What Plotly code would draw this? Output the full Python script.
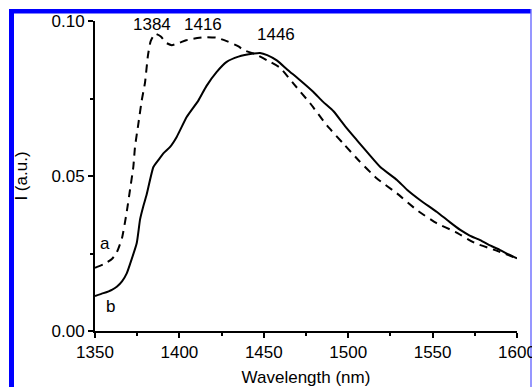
import plotly.graph_objects as go

# ---- data ----
wl_a = [1350, 1355, 1360, 1363, 1366, 1368.8, 1370.7, 1372.7, 1373.7, 1375.7, 1377.7,
        1379.6, 1381.4, 1383, 1385.6, 1389, 1392, 1395.5, 1400, 1404, 1408.3, 1415,
        1422, 1428, 1435, 1438, 1445, 1452, 1459.7, 1467.6, 1477.5, 1487.4, 1497.2,
        1506.1, 1517, 1528.9, 1540.7, 1552.6, 1563.4, 1575.3, 1587.1, 1600]
int_a = [0.0204, 0.0215, 0.0232, 0.0255, 0.0300, 0.0384, 0.0454, 0.0529, 0.0594, 0.0669, 0.0744,
         0.0800, 0.0890, 0.0935, 0.0959, 0.0950, 0.0930, 0.0922, 0.0930, 0.0938, 0.0943, 0.0948,
         0.0946, 0.0935, 0.0918, 0.0906, 0.0893, 0.0873, 0.0849, 0.0798, 0.0734, 0.0663, 0.0604,
         0.0551, 0.0492, 0.0444, 0.0390, 0.0347, 0.0320, 0.0283, 0.0261, 0.0234]

wl_b = [1350, 1355, 1360, 1362.9, 1366, 1368.8, 1371, 1374.7, 1376.7, 1378.5, 1380.6,
        1384.6, 1387.5, 1390.5, 1394.5, 1398.4, 1404.4, 1411.3, 1416, 1422, 1428, 1435,
        1443.9, 1447.8, 1452, 1457.7, 1464, 1471.5, 1479.4, 1485, 1491.3, 1498, 1505.1,
        1512, 1519, 1528.9, 1535, 1542.7, 1552.6, 1560, 1566.4, 1572, 1578.2, 1584, 1590,
        1595, 1600]
int_b = [0.0113, 0.0122, 0.0133, 0.0143, 0.0160, 0.0186, 0.0220, 0.0283, 0.0360, 0.0400, 0.0440,
         0.0529, 0.0551, 0.0573, 0.0594, 0.0626, 0.0691, 0.0744, 0.0790, 0.0835, 0.0868, 0.0885,
         0.0895, 0.0897, 0.0890, 0.0873, 0.0843, 0.0809, 0.0771, 0.0740, 0.0709, 0.0662, 0.0616,
         0.0572, 0.0529, 0.0487, 0.0455, 0.0422, 0.0384, 0.0352, 0.0326, 0.0308, 0.0293, 0.0276, 0.0261,
         0.0247, 0.0234]

peak_labels = ["1384", "1416", "1446"]
peak_x = [1383.6, 1413.9, 1457.3]
peak_y = [0.0989, 0.0989, 0.0957]

curve_labels = ["a", "b"]
curve_lx = [1355.9, 1358.9]
curve_ly = [0.0283, 0.0080]

x_ticks = [1350, 1400, 1450, 1500, 1550, 1600]
y_ticks = [0.00, 0.05, 0.10]
y_tick_text = ["0.00", "0.05", "0.10"]

# ---- layout constants ----
W, H = 532, 387
L, R, T, B = 95, 15, 21, 56
PW, PH = W - L - R, H - T - B
FONT = "Liberation Sans, Arial, sans-serif"
FS = 17


def px_x(p):
    return (p - L) / PW


def px_y(p):
    return (H - B - p) / PH


fig = go.Figure()
fig.add_trace(go.Scatter(x=wl_a, y=int_a, mode="lines",
                         line=dict(color="black", width=2, dash="8px,6px",
                                   shape="spline", smoothing=0.5),
                         showlegend=False))
fig.add_trace(go.Scatter(x=wl_b, y=int_b, mode="lines",
                         line=dict(color="black", width=2, shape="spline", smoothing=0.5),
                         showlegend=False))

for t, x, y in zip(peak_labels, peak_x, peak_y):
    fig.add_annotation(x=x, y=y, text=t, showarrow=False, xanchor="center",
                       yanchor="middle", font=dict(family=FONT, size=FS, color="black"))
for t, x, y in zip(curve_labels, curve_lx, curve_ly):
    fig.add_annotation(x=x, y=y, text=t, showarrow=False, xanchor="center",
                       yanchor="middle", font=dict(family=FONT, size=FS, color="black"))

# blue frame
blue = "#0000ff"
fig.add_shape(type="rect", xref="paper", yref="paper", layer="below",
              x0=px_x(9), x1=px_x(14), y0=px_y(H + 5), y1=px_y(9),
              fillcolor=blue, line=dict(width=0))
fig.add_shape(type="rect", xref="paper", yref="paper", layer="below",
              x0=px_x(9), x1=px_x(531), y0=px_y(13.5), y1=px_y(9),
              fillcolor=blue, line=dict(width=0))
fig.add_shape(type="rect", xref="paper", yref="paper", layer="below",
              x0=px_x(530.3), x1=px_x(531.7), y0=px_y(H + 5), y1=px_y(9),
              fillcolor="#6a6aff", line=dict(width=0))

axis_common = dict(showline=True, linecolor="black", linewidth=2, ticks="outside",
                   ticklen=5, tickwidth=1.5, tickcolor="black", showgrid=False,
                   zeroline=False, mirror=False, ticklabeloverflow="allow",
                   tickfont=dict(family=FONT, size=FS, color="black"))

fig.update_xaxes(range=[1350, 1600], tickvals=x_ticks,
                 minor=dict(ticks="outside", ticklen=3, tickwidth=1.5, tickcolor="black",
                            dtick=25, tick0=1350, showgrid=False),
                 title=dict(text="Wavelength (nm)", standoff=19,
                            font=dict(family=FONT, size=FS, color="black")),
                 **axis_common)
fig.update_yaxes(range=[0, 0.10], tickvals=y_ticks, ticktext=y_tick_text,
                 minor=dict(ticks="outside", ticklen=3, tickwidth=1.5, tickcolor="black",
                            dtick=0.025, tick0=0, showgrid=False),
                 title=dict(text="I (a.u.)", standoff=20,
                            font=dict(family=FONT, size=FS, color="black")),
                 **axis_common)

fig.update_layout(width=W, height=H, margin=dict(l=L, r=R, t=T, b=B, autoexpand=False),
                  paper_bgcolor="white", plot_bgcolor="white",
                  font=dict(family=FONT, size=FS, color="black"))

fig.write_html("out.html")
